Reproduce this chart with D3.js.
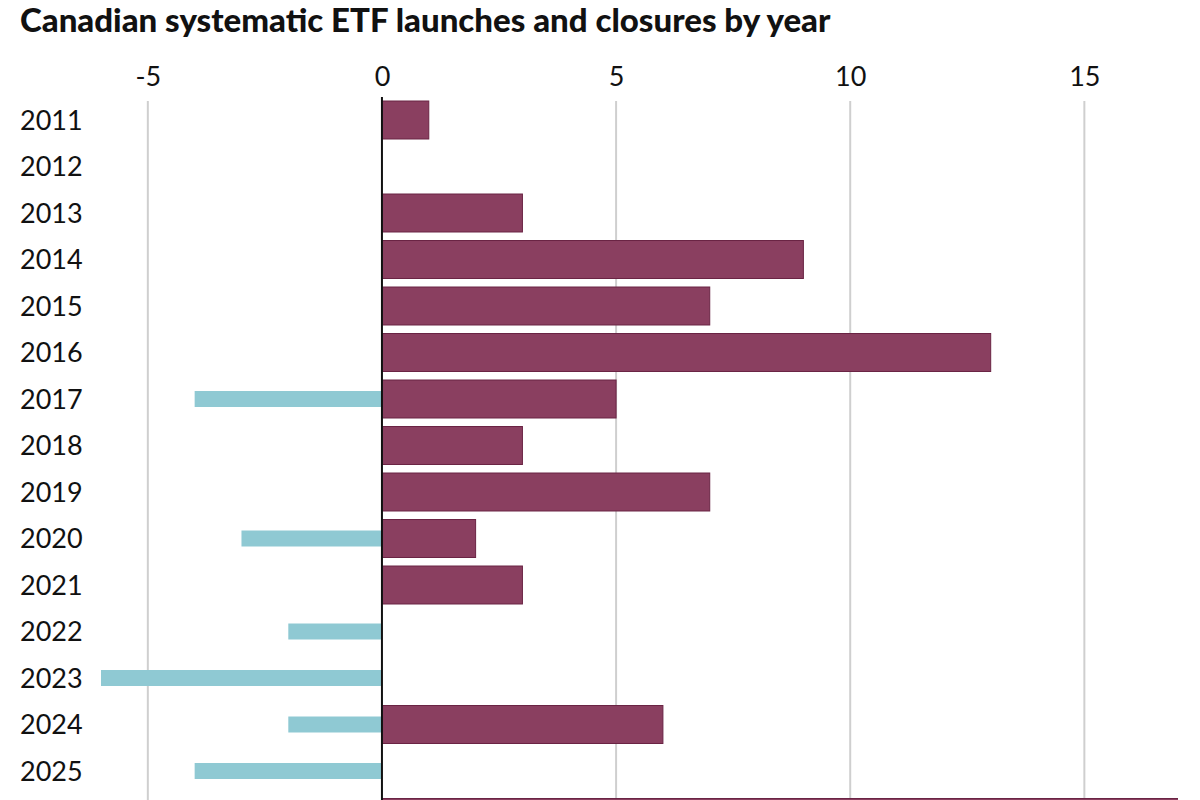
<!DOCTYPE html>
<html>
<head>
<meta charset="utf-8">
<script src="https://cdn.jsdelivr.net/npm/d3@7"></script>
<style>
  body { margin: 0; background: #fff; }
  svg { display: block; }
</style>
</head>
<body>
<svg width="1200" height="800"></svg>
<script>
const width = 1200;
const height = 800;

//--------------------Data--------------------
// the last row is cut off by the bottom edge of the picture, only its top shows
const years = ["2011", "2012", "2013", "2014", "2015", "2016", "2017", "2018",
    "2019", "2020", "2021", "2022", "2023", "2024", "2025", "Total"];
const launches = [1, 0, 3, 9, 7, 13, 5, 3, 7, 2, 3, 0, 0, 6, 0, 59];
const closures = [0, 0, 0, 0, 0, 0, -4, 0, 0, -3, 0, -2, -6, -2, -4, 0];
const xTicks = [-5, 0, 5, 10, 15];

const svg = d3.select("svg");
const font = "Lato, 'Open Sans', sans-serif";

//--------------------Scales--------------------
const x = d3.scaleLinear()
    .domain([-6, 17])
    .range([101, 1178]);

const rowStep = 46.5;
const y = d3.scaleBand()
    .domain(years)
    .range([96.75, 96.75 + years.length * rowStep])
    .paddingInner(0.183)
    .paddingOuter(0.0915);

//--------------------Title--------------------
svg.append("text")
    .attr("x", 20)
    .attr("y", 32)
    .attr("font-family", font)
    .attr("font-weight", 900)
    .attr("font-size", 33)
    .attr("fill", "#111")
    .text("Canadian systematic ETF launches and closures by year");

//--------------------Axis & grid--------------------
const xAxis = d3.axisTop(x)
    .tickValues(xTicks)
    .tickSize(0)
    .tickPadding(0)
    .tickFormat(d => String(d));

const gx = svg.append("g")
    .attr("transform", "translate(0,86)")
    .call(xAxis);
gx.select(".domain").remove();
gx.selectAll("text")
    .attr("font-family", font)
    .attr("font-size", 27)
    .attr("fill", "#111");

svg.append("g")
    .selectAll("line")
    .data(xTicks.filter(d => d !== 0))
    .enter()
    .append("line")
    .attr("x1", d => x(d))
    .attr("x2", d => x(d))
    .attr("y1", 101)
    .attr("y2", height)
    .attr("stroke", "#cfcfcf")
    .attr("stroke-width", 2);

//year labels (only rows whose middle is on the picture)
svg.append("g")
    .selectAll("text")
    .data(years.filter(d => y(d) + y.bandwidth() / 2 < height))
    .enter()
    .append("text")
    .attr("x", 20)
    .attr("y", d => y(d) + y.bandwidth() / 2)
    .attr("dy", "0.36em")
    .attr("font-family", font)
    .attr("font-size", 27)
    .attr("fill", "#111")
    .text(d => d);

//--------------------Bars--------------------
svg.append("defs")
    .append("clipPath")
    .attr("id", "plot")
    .append("rect")
    .attr("x", 0)
    .attr("y", 0)
    .attr("width", x.range()[1])
    .attr("height", height);

const bars = svg.append("g").attr("clip-path", "url(#plot)");

//launches
bars.selectAll(".launch")
    .data(years.map((d, i) => ({ year: d, v: launches[i] })).filter(d => d.v > 0))
    .enter()
    .append("rect")
    .attr("class", "launch")
    .attr("x", x(0))
    .attr("y", d => y(d.year))
    .attr("width", d => x(d.v) - x(0))
    .attr("height", y.bandwidth())
    .attr("fill", "#8a3f60")
    .attr("stroke", "#6a2444")
    .attr("stroke-width", 1);

//closures
const closureH = 16;
bars.selectAll(".closure")
    .data(years.map((d, i) => ({ year: d, v: closures[i] })).filter(d => d.v < 0))
    .enter()
    .append("rect")
    .attr("class", "closure")
    .attr("x", d => x(d.v))
    .attr("y", d => y(d.year) + y.bandwidth() / 2 - closureH / 2)
    .attr("width", d => x(0) - x(d.v))
    .attr("height", closureH)
    .attr("fill", "#8fc9d3");

//zero line
svg.append("line")
    .attr("x1", x(0))
    .attr("x2", x(0))
    .attr("y1", 97)
    .attr("y2", height)
    .attr("stroke", "#111")
    .attr("stroke-width", 2);
</script>
</body>
</html>
